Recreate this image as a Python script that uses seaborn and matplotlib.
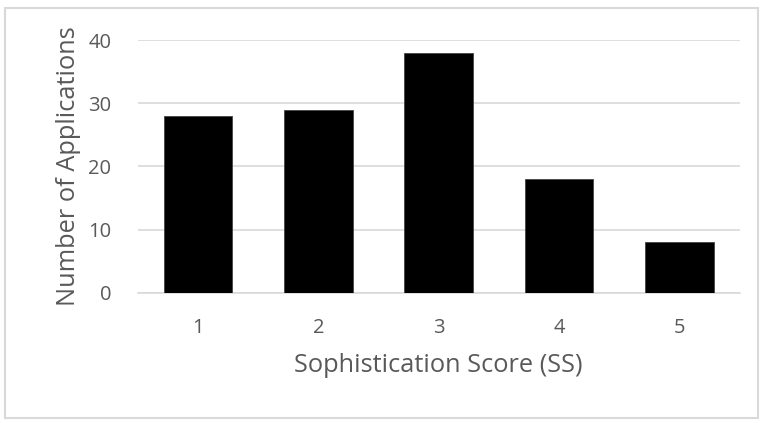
import matplotlib
matplotlib.use("Agg")
import matplotlib.pyplot as plt
import seaborn as sns
import pandas as pd
from matplotlib.patches import Rectangle

# Data
scores = ["1", "2", "3", "4", "5"]
applications = [28, 29, 38, 18, 8]
y_ticks = [0, 10, 20, 30, 40]

df = pd.DataFrame({"score": scores, "count": applications})

sns.set_style("white")
plt.rcParams["font.family"] = ["Open Sans", "DejaVu Sans"]
text_color = "#595959"
grid_color = "#d9d9d9"

fig = plt.figure(figsize=(7.65, 4.23), dpi=100)
ax = fig.add_axes([0.180, 0.308, 0.787, 0.597])

sns.barplot(x="score", y="count", data=df, color="black", width=0.57,
            edgecolor="#444444", linewidth=0.6, ax=ax, zorder=3)

ax.set_ylim(0, 40)
ax.set_xlim(-0.5, 4.5)
ax.set_yticks(y_ticks)
ax.yaxis.grid(True, color=grid_color, linewidth=1.2, zorder=0)
ax.set_axisbelow(True)
for side in ["top", "right", "left"]:
    ax.spines[side].set_visible(False)
ax.spines["bottom"].set_color(grid_color)
ax.spines["bottom"].set_linewidth(1.2)
ax.tick_params(axis="both", length=0, labelsize=14.5, labelcolor=text_color)
ax.tick_params(axis="x", pad=18)
ax.tick_params(axis="y", pad=19)

ax.set_xlabel("Sophistication Score (SS)", fontsize=18.3, color=text_color, labelpad=11)
ax.set_ylabel("Number of Applications", fontsize=18.3, color=text_color, labelpad=5)

# light frame around the chart area
fig.patches.append(Rectangle((0.007, 0.012), 0.984, 0.968, transform=fig.transFigure,
                             fill=False, edgecolor="#d9d9d9", linewidth=1.5))

fig.savefig("out.png", dpi=100, facecolor="white")
